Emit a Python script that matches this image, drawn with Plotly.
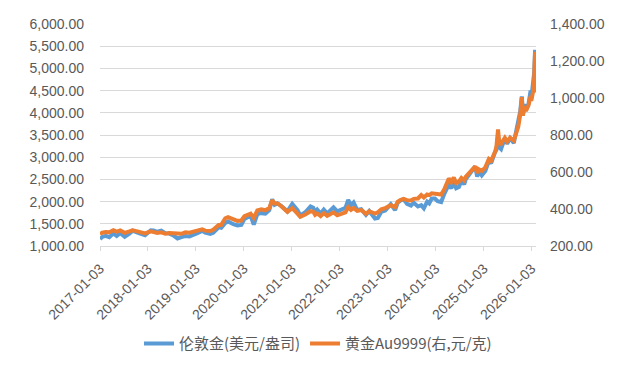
import plotly.graph_objects as go

# ---- data ----
dates = [
    "2017-01-03", "2017-01-20", "2017-02-15", "2017-03-15", "2017-04-15", "2017-05-10",
    "2017-06-06", "2017-07-10", "2017-08-15", "2017-09-08", "2017-10-15", "2017-11-15",
    "2017-12-12", "2018-01-25", "2018-02-15", "2018-03-15", "2018-04-15", "2018-05-15",
    "2018-06-15", "2018-07-15", "2018-08-16", "2018-09-15", "2018-10-15", "2018-11-15",
    "2018-12-15", "2019-01-15", "2019-02-20", "2019-03-15", "2019-04-23", "2019-05-15",
    "2019-06-25", "2019-07-15", "2019-08-15", "2019-09-05", "2019-10-15", "2019-11-15",
    "2019-12-15", "2020-01-08", "2020-02-24", "2020-03-19", "2020-04-15", "2020-05-15",
    "2020-06-15", "2020-07-15", "2020-08-06", "2020-08-25", "2020-09-15", "2020-10-15",
    "2020-11-30", "2020-12-15", "2021-01-06", "2021-02-15", "2021-03-08", "2021-04-15",
    "2021-05-25", "2021-06-15", "2021-06-29", "2021-07-15", "2021-08-10", "2021-09-03",
    "2021-09-29", "2021-10-15", "2021-11-16", "2021-12-15", "2022-01-15", "2022-02-15",
    "2022-03-08", "2022-03-29", "2022-04-18", "2022-05-16", "2022-06-15", "2022-07-21",
    "2022-08-15", "2022-09-28", "2022-10-20", "2022-11-15", "2022-12-15", "2023-01-26",
    "2023-02-28", "2023-03-20", "2023-04-13", "2023-05-04", "2023-05-30", "2023-06-29",
    "2023-07-20", "2023-08-21", "2023-09-15", "2023-10-05", "2023-10-30", "2023-11-15",
    "2023-12-04", "2023-12-28", "2024-01-18", "2024-02-14", "2024-03-08", "2024-04-12",
    "2024-05-01", "2024-05-20", "2024-06-07", "2024-06-28", "2024-07-17", "2024-08-07",
    "2024-08-20", "2024-09-26", "2024-10-30", "2024-11-14", "2024-11-25", "2024-12-19",
    "2025-01-15", "2025-02-11", "2025-02-28", "2025-03-31", "2025-04-10", "2025-04-22",
    "2025-05-01", "2025-05-15", "2025-06-13", "2025-06-30", "2025-07-23", "2025-08-20",
    "2025-09-02", "2025-09-23", "2025-10-08", "2025-10-20", "2025-10-28", "2025-11-13",
    "2025-11-20", "2025-12-10", "2025-12-26", "2025-12-31", "2026-01-14", "2026-01-22",
    "2026-01-29", "2026-02-02", "2026-02-04",
]

london_gold = [
    1160, 1205, 1230, 1200, 1285, 1225,
    1290, 1210, 1280, 1345, 1300, 1280,
    1240, 1355, 1350, 1320, 1345, 1290,
    1280, 1240, 1170, 1200, 1225, 1215,
    1245, 1290, 1340, 1300, 1270, 1295,
    1420, 1410, 1520, 1550, 1490, 1465,
    1475, 1610, 1680, 1480, 1720, 1740,
    1730, 1810, 2050, 1930, 1960, 1900,
    1780, 1860, 1950, 1810, 1690, 1760,
    1890, 1860, 1765, 1820, 1730, 1820,
    1735, 1780, 1870, 1780, 1820, 1860,
    2040, 1920, 1980, 1810, 1830, 1700,
    1790, 1620, 1630, 1770, 1800, 1940,
    1810, 1980, 2030, 2050, 1950, 1910,
    1975, 1890, 1920, 1850, 2000, 1960,
    2070, 2070, 2010, 1990, 2170, 2380,
    2300, 2440, 2300, 2330, 2470, 2390,
    2510, 2670, 2790, 2560, 2700, 2590,
    2690, 2920, 2860, 3120, 3170, 3480,
    3220, 3180, 3430, 3300, 3430, 3320,
    3530, 3760, 4040, 4370, 3960, 4200,
    4050, 4200, 4500, 4320, 4620, 4900,
    5420, 4700, 5000,
]

au9999 = [
    264, 272, 276, 274, 285, 278,
    284, 271, 279, 285, 279, 276,
    268, 279, 274, 270, 274, 266,
    270, 268, 263, 266, 274, 272,
    278, 284, 290, 283, 281, 288,
    314, 314, 350, 356, 343, 336,
    338, 362, 375, 352, 392, 398,
    393, 405, 448, 430, 430, 415,
    385, 395, 405, 375, 358, 370,
    388, 385, 368, 376, 362, 378,
    363, 369, 382, 366, 372, 382,
    410, 395, 405, 390, 395, 374,
    388, 375, 382, 398, 405, 420,
    410, 440, 450, 455, 448, 446,
    455, 457, 475, 462, 478, 475,
    485, 482, 478, 478, 505, 565,
    545, 570, 540, 548, 568, 555,
    575, 600, 630, 595, 615, 605,
    625, 670, 660, 710, 740, 830,
    760, 752, 785, 765, 785, 770,
    800, 845, 910, 1005, 905, 955,
    930, 960, 1010, 985, 1035, 1110,
    1250, 1040, 1030,
]

tick_dates = [
    "2017-01-03", "2018-01-03", "2019-01-03", "2020-01-03", "2021-01-03",
    "2022-01-03", "2023-01-03", "2024-01-03", "2025-01-03", "2026-01-03",
]

name_left = "伦敦金(美元/盎司)"
name_right = "黄金Au9999(右,元/克)"

fig = go.Figure()
fig.add_trace(go.Scatter(
    x=dates, y=london_gold, name=name_left, mode="lines",
    line=dict(color="#5B9BD5", width=4), yaxis="y",
))
fig.add_trace(go.Scatter(
    x=dates, y=au9999, name=name_right, mode="lines",
    line=dict(color="#ED7D31", width=4), yaxis="y2",
))

fig.update_layout(
    width=625, height=365,
    margin=dict(l=92, r=97, t=16, b=127, autoexpand=False),
    paper_bgcolor="white", plot_bgcolor="white",
    font=dict(family="Liberation Sans, Arial, Noto Sans CJK SC", size=14, color="#595959"),
    xaxis=dict(
        type="date", range=["2017-01-03", "2026-02-05"],
        tickvals=tick_dates, ticktext=tick_dates, tickangle=-45,
        showgrid=False, zeroline=False,
        showline=True, linecolor="#D9D9D9", linewidth=1,
        ticks="outside", tickcolor="#D9D9D9", ticklen=4,
        tickfont=dict(size=14), automargin=False, ticklabelstandoff=4,
    ),
    yaxis=dict(
        range=[1000, 6000], dtick=500, tickformat=",.2f",
        showgrid=True, gridcolor="#D9D9D9", gridwidth=1,
        zeroline=False, showline=False, ticklabelstandoff=15,
        automargin=False, tickfont=dict(size=14),
    ),
    yaxis2=dict(
        range=[200, 1400], dtick=200, tickformat=",.2f",
        overlaying="y", side="right", showgrid=False,
        zeroline=False, showline=False, ticklabelstandoff=13,
        automargin=False, tickfont=dict(size=14),
    ),
    legend=dict(
        orientation="h", x=0.5, xanchor="center", y=-0.44, yanchor="middle",
        font=dict(size=15, family="Noto Sans CJK SC, Liberation Sans", color="#595959"),
    ),
    showlegend=True,
)

fig.write_html("out.html")
